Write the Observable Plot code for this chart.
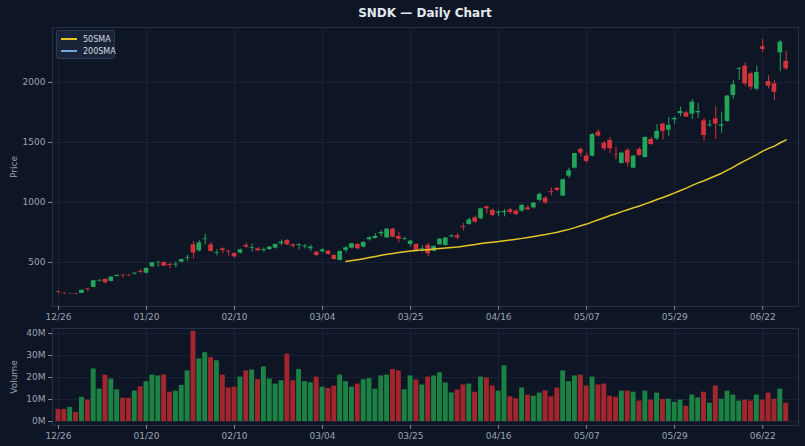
<!DOCTYPE html>
<html>
<head>
<meta charset="utf-8">
<script src="https://cdn.jsdelivr.net/npm/d3@7"></script>
<script src="https://cdn.jsdelivr.net/npm/@observablehq/plot@0.6"></script>
<style>
  html, body { margin: 0; padding: 0; background: #0e1626; }
  #wrap { position: relative; width: 805px; height: 446px; background: #0e1626; font-family: "DejaVu Sans", sans-serif; overflow: hidden; }
  #title { position: absolute; left: 52px; width: 746px; top: 6px; text-align: center; color: #e4e8ef; font-weight: bold; font-size: 12px; }
  #price { position: absolute; left: 0; top: 22px; }
  #vol { position: absolute; left: 0; top: 324px; }
  #legend { position: absolute; left: 56px; top: 30px; width: 59px; height: 29px; background: #1a2438; border: 1px solid #2b3852; border-radius: 2px; box-sizing: border-box; font-size: 8px; color: #d4d9e2; }
  .lg { position: absolute; left: 4px; height: 10px; display: flex; align-items: center; }
  .lg span.ln { display: inline-block; width: 16px; height: 1.5px; margin-right: 6px; }
</style>
</head>
<body>
<div id="wrap">
  <div id="title">SNDK — Daily Chart</div>
  <div id="price"></div>
  <div id="vol"></div>
  <div id="legend">
    <div class="lg" style="top:3px"><span class="ln" style="background:#e6c627"></span>50SMA</div>
    <div class="lg" style="top:15px"><span class="ln" style="background:#6fa8dc"></span>200SMA</div>
  </div>
</div>
<script>
const tickIdx = [0, 15, 30, 45, 60, 75, 90, 105, 120];
const tickLabels = ["12/26", "01/20", "02/10", "03/04", "03/25", "04/16", "05/07", "05/29", "06/22"];
const priceTicks = [500, 1000, 1500, 2000];
const volumeTicksM = [0, 10, 20, 30, 40];

const open = [255,243,240,240,242,280,292,345,358,342,383,393,392,403,425,411,464,498,500,483,478,503,535,647,597,690,647,578,614,594,575,578,641,618,614,600,608,619,655,683,647,640,630,614,586,589,594,558,517,600,619,650,628,689,700,739,705,778,717,694,650,650,608,642,594,647,642,714,722,798,817,872,864,964,933,911,915,939,928,928,955,955,1017,1036,1090,1119,1053,1219,1286,1442,1386,1386,1586,1494,1517,1394,1325,1433,1286,1442,1375,1525,1530,1653,1603,1689,1740,1747,1736,1747,1680,1640,1697,1636,1675,1892,2108,2136,2072,1944,2297,2008,1989,2247,2175];
const high = [262,246,244,243,272,286,350,358,365,382,395,403,400,418,440,455,500,508,505,493,502,528,560,675,680,735,668,605,622,600,580,611,661,652,625,620,632,652,686,690,655,655,650,645,590,615,600,565,595,634,660,655,672,715,740,765,780,782,750,710,683,655,640,660,640,700,708,730,740,825,870,885,952,970,945,930,940,950,940,985,975,1000,1080,1050,1120,1125,1195,1285,1410,1455,1410,1575,1605,1510,1540,1460,1420,1450,1390,1455,1545,1542,1650,1660,1708,1712,1795,1760,1860,1825,1700,1683,1800,1753,1890,2015,2125,2164,2086,2136,2358,2058,2017,2350,2258];
const low = [238,232,236,232,240,255,290,338,320,338,380,370,383,396,410,405,460,460,465,445,455,498,510,530,588,645,585,555,572,555,535,570,620,585,590,582,600,612,640,640,620,605,612,590,550,578,560,518,512,580,612,605,620,678,695,715,700,705,665,682,630,595,585,550,585,640,635,705,690,765,810,825,855,905,880,880,880,900,890,920,930,945,1005,985,1055,1093,1050,1200,1280,1380,1325,1380,1545,1430,1410,1355,1320,1295,1280,1385,1370,1475,1515,1520,1550,1650,1715,1710,1690,1700,1510,1625,1525,1575,1670,1860,2015,1970,1933,1930,2247,1947,1850,2089,2100];
const close = [250,240,241,236,268,274,347,350,331,378,392,389,388,410,418,450,497,502,469,475,485,525,541,580,664,696,592,584,600,588,547,605,628,624,597,608,628,650,669,647,636,648,637,628,558,605,567,525,592,622,656,614,667,705,717,750,778,711,694,700,678,600,614,572,633,694,703,722,705,790,855,836,947,947,892,920,925,917,900,975,939,994,1067,997,1082,1100,1189,1264,1408,1411,1342,1567,1553,1447,1447,1390,1411,1330,1386,1392,1542,1483,1592,1592,1642,1700,1758,1711,1836,1758,1558,1647,1653,1647,1886,1980,2114,1989,1961,2083,2275,1969,1919,2336,2114];
const volumeM = [5.5,5.5,6.4,4.1,11,9.7,23.9,14.7,21.1,19.3,14.4,10.6,10.6,13.8,15.8,18.1,21.1,20.7,21.1,13.3,13.8,16.4,23,41,28.5,31.3,29,27.6,21.1,15.2,15.6,20.2,23,23.4,19,24.8,19.3,17,18.5,30.6,18.5,23.6,18.1,17.6,20.2,15.6,15,16.1,21.1,18.1,15.6,17,19,19.5,14.7,20.7,21.1,23.6,23,14.4,20.7,18.9,16.6,20.2,20.7,22.1,17.5,13,14.3,16.6,17,13.3,20.2,19.8,16.1,13.8,25.3,11.2,10.3,15.2,12,11.5,12.9,13.9,11.2,15.2,23,18.1,20.7,21.1,16.1,20.2,16.6,17,11.5,11,13.8,13.8,13.3,9.3,13.8,9.7,12.9,10.1,10.1,8.7,9.7,6.9,12,10.7,13.3,8.3,16.1,10.1,13.8,12,9.3,9.7,9.3,12,9.7,12.9,10.1,14.7,8.3];

const GREEN = "#22a559";
const RED = "#d3333b";
const VGREEN = "#1c8243";
const VRED = "#a3262e";
const GRID = "#1b2437";
const FRAME = "#27324a";
const TEXT = "#9aa3b4";
const TICK = "#7d8699";

const bars = open.map((o, i) => ({
  i, open: o, high: high[i], low: low[i], close: close[i],
  vol: volumeM[i] * 1e6, up: close[i] >= o
}));

// 50-day simple moving average of the closes
const sma = [];
for (let i = 49; i < close.length; i++) {
  let s = 0;
  for (let k = i - 49; k <= i; k++) s += close[k];
  sma.push({ i, v: s / 50 });
}

const xDomain = [-1.02, 126.1];
const fmtX = d => tickLabels[tickIdx.indexOf(d)];
const common = {
  width: 805,
  marginLeft: 52,
  marginRight: 7,
  style: { background: "transparent", color: TEXT, fontSize: "9px", fontFamily: "DejaVu Sans, sans-serif" }
};

const price = Plot.plot({
  ...common,
  height: 302,
  marginTop: 5,
  marginBottom: 18,
  x: { domain: xDomain, axis: null },
  y: { domain: [133, 2458], axis: null },
  marks: [
    Plot.ruleX(tickIdx, { stroke: GRID }),
    Plot.ruleY(priceTicks, { stroke: GRID }),
    Plot.frame({ stroke: FRAME }),
    Plot.axisX({ ticks: tickIdx, tickFormat: fmtX, tickSize: 4, tickPadding: 3, stroke: TICK, color: TEXT, label: null }),
    Plot.axisY({ ticks: priceTicks, tickFormat: d => String(d), tickSize: 4, tickPadding: 3, label: "Price", labelAnchor: "center", labelArrow: "none", labelOffset: 42, color: TEXT, stroke: TICK }),
    Plot.ruleX(bars, { x: "i", y1: "low", y2: "high", stroke: d => d.up ? GREEN : RED, strokeWidth: 1 }),
    Plot.rect(bars, {
      x1: d => d.i - 0.4, x2: d => d.i + 0.4,
      y1: "open", y2: "close",
      fill: d => d.up ? GREEN : RED
    }),
    Plot.line(sma, { x: "i", y: "v", stroke: "#e6c627", strokeWidth: 1.5 })
  ]
});
document.getElementById("price").appendChild(price);

const vol = Plot.plot({
  ...common,
  height: 121,
  marginTop: 4,
  marginBottom: 20,
  x: { domain: xDomain, axis: null },
  y: { domain: [-1.82e6, 42.27e6], axis: null },
  marks: [
    Plot.ruleX(tickIdx, { stroke: GRID }),
    Plot.ruleY(volumeTicksM.map(v => v * 1e6), { stroke: GRID }),
    Plot.frame({ stroke: FRAME }),
    Plot.axisX({ ticks: tickIdx, tickFormat: fmtX, tickSize: 4, tickPadding: 3, stroke: TICK, color: TEXT, label: null }),
    Plot.axisY({ ticks: volumeTicksM.map(v => v * 1e6), tickFormat: d => Math.round(d / 1e6) + "M", tickSize: 4, tickPadding: 3, label: "Volume", labelAnchor: "center", labelArrow: "none", labelOffset: 42, color: TEXT, stroke: TICK }),
    Plot.rect(bars, {
      x1: d => d.i - 0.42, x2: d => d.i + 0.42,
      y1: 0, y2: "vol",
      fill: d => d.up ? VGREEN : VRED
    })
  ]
});
document.getElementById("vol").appendChild(vol);
</script>
</body>
</html>
